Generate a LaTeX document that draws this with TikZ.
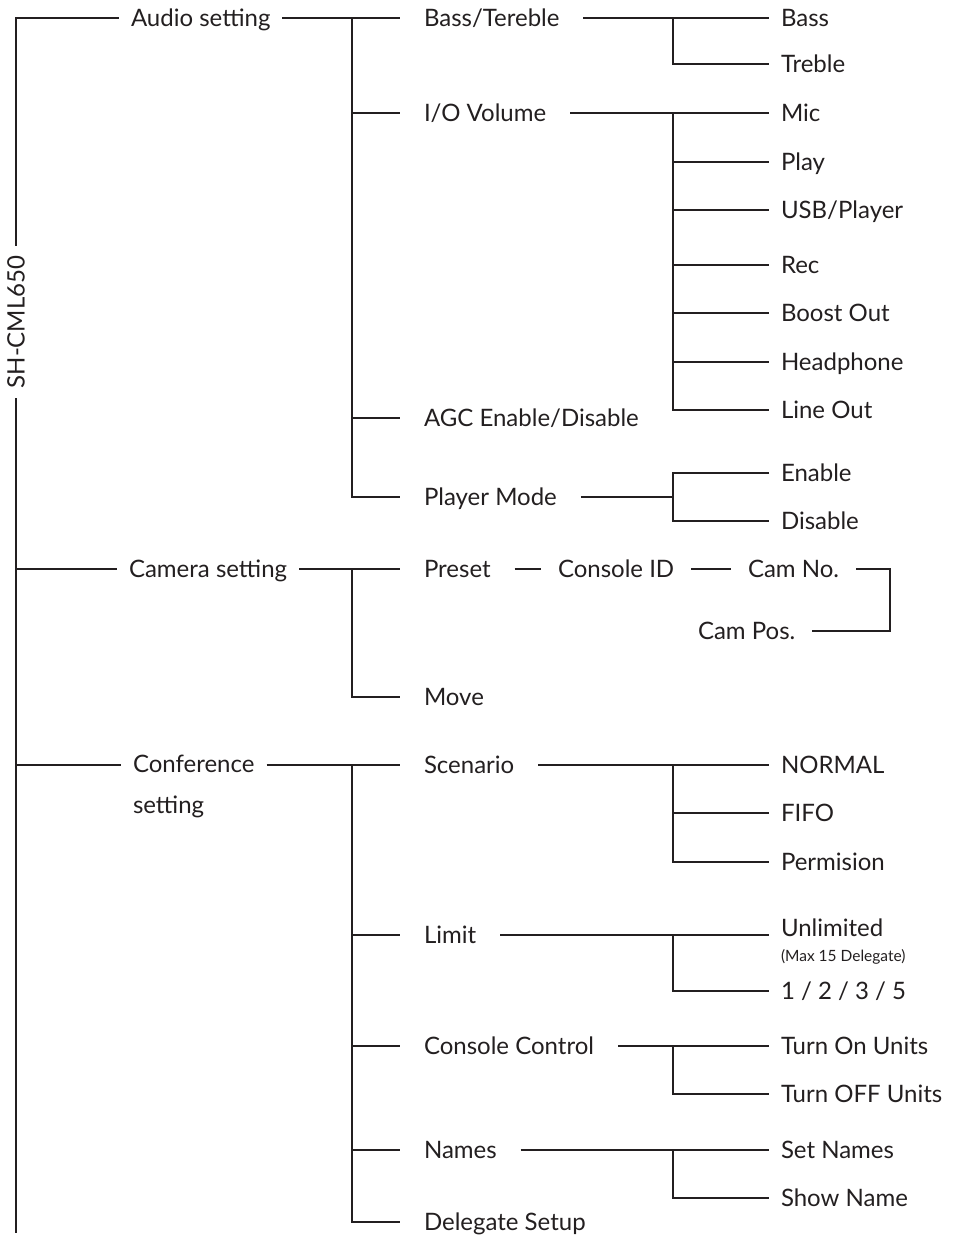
\documentclass[tikz,border=0pt]{standalone}
\usepackage{fontspec}
\setmainfont{Lato}
\usepackage{xcolor}
\usepackage{tikz}
\usetikzlibrary{calc,positioning}
\definecolor{ink}{HTML}{231F20}
\tikzset{every node/.style={inner sep=0pt, text=ink, font=\fontsize{24}{28}\selectfont},
         capline/.style={anchor=west, text height=17pt, text depth=0pt},
         lvone/.style={capline, outer xsep=12pt},
         lvtwo/.style={capline, outer xsep=24pt},
         lvthree/.style={capline, outer xsep=12pt},
         lvcam/.style={capline, outer xsep=17pt},
         twoline/.style={anchor=north west, align=left, outer xsep=12pt},
         link/.style={draw=ink, line width=1.3pt}
        }

\begin{document}
\begin{tikzpicture}[x=1pt,y=-1pt]
\useasboundingbox (0,0) rectangle (961,1237);

%root
\coordinate (top) at (16,18);
\coordinate (bot) at (16,1233);
\node[rotate=90, outer xsep=10pt] (root) at (16,322) {SH-CML650};

%first level
\node[lvone] (aud) at (119,18) {Audio setting};
\node[lvone] (cam) at (117,569) {Camera setting};
\node[twoline, font=\fontsize{24}{41}\selectfont] (conf) at (121,755) {Conference\\setting};

\coordinate (jaud) at (352,18);
\coordinate (jcam) at (352,569);
\coordinate (jconf) at (352,765);

\draw[link] (root.east) -- (top) -- (aud.west);
\draw[link] (root.west) -- (bot);
\draw[link] (bot |- jcam) -- (cam.west);
\draw[link] (bot |- jconf) -- (conf.west |- jconf);

%audio setting
\node[lvtwo] (bt) at (400,18) {Bass/Tereble};
\node[lvtwo] (io) at (400,113) {I/O Volume};
\node[lvtwo] (agc) at (400,418) {AGC Enable/Disable};
\node[lvtwo] (pm) at (400,497) {Player Mode};

\draw[link] (aud.east) -- (bt.west);
\draw[link] (jaud) |- (pm.west);
\draw[link] (jaud |- io.west) -- (io.west);
\draw[link] (jaud |- agc.west) -- (agc.west);

\node[lvthree] (bass) at (769,18) {Bass};
\node[lvthree] (treb) at (769,64) {Treble};
\draw[link] (bt.east) -- (bass.west);
\draw[link] (673,18) |- (treb.west);

\node[lvthree] (mic) at (769,113) {Mic};
\node[lvthree] (play) at (769,162) {Play};
\node[lvthree] (usb) at (769,210) {USB/Player};
\node[lvthree] (rec) at (769,265) {Rec};
\node[lvthree] (boost) at (769,313) {Boost Out};
\node[lvthree] (head) at (769,362) {Headphone};
\node[lvthree] (lout) at (769,410) {Line Out};
\coordinate (jio) at (673,113);
\draw[link] (io.east) -- (mic.west);
\draw[link] (jio) |- (lout.west);
\foreach \n in {play,usb,rec,boost,head}
  \draw[link] (jio |- \n.west) -- (\n.west);

\node[lvthree] (en) at (769,473) {Enable};
\node[lvthree] (dis) at (769,521) {Disable};
\coordinate (jpm) at (673,497);
\draw[link] (pm.east) -- (jpm);
\draw[link] (en.west) -| (jpm) |- (dis.west);

%camera setting
\node[lvtwo] (pre) at (400,569) {Preset};
\node[lvtwo] (mov) at (400,697) {Move};
\draw[link] (cam.east) -- (pre.west);
\draw[link] (jcam) |- (mov.west);

\node[lvcam] (cid) at (541,569) {Console ID};
\node[lvcam] (camno) at (731,569) {Cam No.};
\node[lvcam] (campos) at (681,631) {Cam Pos.};
\coordinate (jpos) at (890,631);
\draw[link] (pre.east) -- (cid.west);
\draw[link] (cid.east) -- (camno.west);
\draw[link] (camno.east) -| (jpos) -- (campos.east);

%conference setting
\node[lvtwo] (scen) at (400,765) {Scenario};
\node[lvtwo] (lim) at (400,935) {Limit};
\node[lvtwo] (cc) at (400,1046) {Console Control};
\node[lvtwo] (nam) at (400,1150) {Names};
\node[lvtwo] (del) at (400,1222) {Delegate Setup};
\draw[link] (conf.east |- jconf) -- (scen.west);
\draw[link] (jconf) |- (del.west);
\foreach \n in {lim,cc,nam}
  \draw[link] (jconf |- \n.west) -- (\n.west);

\node[lvthree] (nor) at (769,765) {NORMAL};
\node[lvthree] (fifo) at (769,813) {FIFO};
\node[lvthree] (perm) at (769,862) {Permision};
\draw[link] (scen.east) -- (nor.west);
\draw[link] (673,765) |- (perm.west);
\draw[link] (673,813) -- (fifo.west);

\node[twoline, font=\fontsize{24}{25}\selectfont] (unl) at (769,919)
  {Unlimited\\{\fontsize{15.5}{17}\selectfont(Max 15 Delegate)}};
\node[lvthree] (lone) at (769,991) {1 / 2 / 3 / 5};
\draw[link] (lim.east) -- (lim.east -| unl.west);
\draw[link] (673,935) |- (lone.west);

\node[lvthree] (ton) at (769,1046) {Turn On Units};
\node[lvthree] (toff) at (769,1094) {Turn OFF Units};
\draw[link] (cc.east) -- (ton.west);
\draw[link] (673,1046) |- (toff.west);

\node[lvthree] (setn) at (769,1150) {Set Names};
\node[lvthree] (shown) at (769,1198) {Show Name};
\draw[link] (nam.east) -- (setn.west);
\draw[link] (673,1150) |- (shown.west);

\end{tikzpicture}
\end{document}
